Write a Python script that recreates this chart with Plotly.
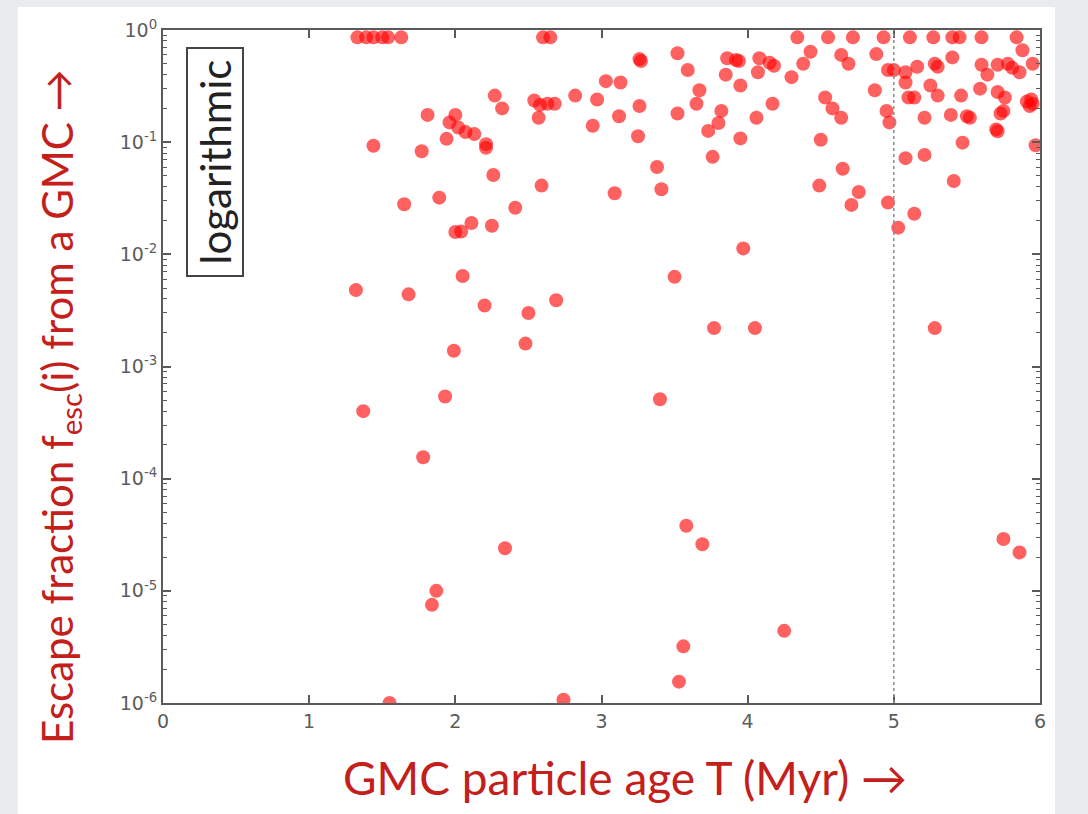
import plotly.graph_objects as go

# GMC particle age T (Myr)
age = [
    1.33, 1.39, 1.44, 1.50, 1.54, 1.63, 2.60, 2.65, 4.34, 4.55, 4.72, 4.93, 5.11, 5.27, 5.40, 5.45, 5.60, 5.84,
    1.81, 1.96, 2.00, 2.02, 1.94, 2.07, 2.13, 2.21, 2.21,
    1.44, 1.77, 1.65, 1.89,
    3.26, 3.27, 3.52, 3.59, 3.86, 3.92, 3.94, 3.85, 3.95,
    3.03, 3.13, 2.82, 2.97, 3.26, 3.12, 2.94, 3.25, 3.52,
    3.67, 3.65, 3.82, 3.80, 3.73, 3.95, 3.76,
    3.38, 3.41, 3.09, 2.59, 2.41, 2.26,
    2.27, 2.32, 2.54, 2.58, 2.63, 2.68, 2.57,
    2.11, 2.00, 2.04, 2.25,
    4.08, 4.07, 4.15, 4.18, 4.30, 4.38, 4.43, 4.17, 4.06,
    4.64, 4.69, 4.88, 4.87, 4.53, 4.58, 4.64, 4.50, 4.95, 4.97,
    4.65, 4.49, 4.76, 4.71, 4.96, 5.03, 5.14,
    4.96, 5.00, 5.08, 5.16, 5.08, 5.10, 5.14,
    5.28, 5.30, 5.40, 5.25, 5.30, 5.46, 5.21, 5.39, 5.50, 5.52, 5.47,
    5.08, 5.21, 5.41,
    5.60, 5.59, 5.64, 5.71, 5.78, 5.81, 5.86, 5.88, 5.95,
    5.71, 5.76, 5.75, 5.73, 5.70, 5.71,
    5.91, 5.94, 5.93, 5.95, 5.97,
    2.05, 1.32, 1.68, 2.20, 2.50, 2.69, 2.48, 1.99, 1.93, 1.37, 1.78,
    3.97, 3.50, 3.77, 4.05, 5.28, 3.40,
    3.58, 3.69, 2.34, 5.75, 5.86, 1.87, 1.84, 4.25, 3.56, 3.53, 1.55, 2.74,
]

# Escape fraction f_esc(i)
fesc = [
    0.86, 0.86, 0.86, 0.86, 0.86, 0.86, 0.86, 0.86, 0.86, 0.86, 0.86, 0.86, 0.86, 0.86, 0.86, 0.86, 0.86, 0.86,
    0.175, 0.15, 0.175, 0.135, 0.107, 0.123, 0.118, 0.096, 0.089,
    0.093, 0.083, 0.028, 0.032,
    0.55, 0.53, 0.62, 0.44, 0.56, 0.54, 0.53, 0.40, 0.32,
    0.35, 0.34, 0.26, 0.24, 0.21, 0.17, 0.14, 0.113, 0.18,
    0.29, 0.22, 0.19, 0.148, 0.126, 0.108, 0.074,
    0.060, 0.038, 0.035, 0.041, 0.026, 0.051,
    0.26, 0.20, 0.235, 0.215, 0.22, 0.22, 0.165,
    0.019, 0.0158, 0.016, 0.018,
    0.56, 0.42, 0.51, 0.48, 0.38, 0.50, 0.64, 0.22, 0.165,
    0.60, 0.50, 0.61, 0.29, 0.25, 0.20, 0.165, 0.105, 0.19, 0.15,
    0.058, 0.041, 0.036, 0.0276, 0.029, 0.0173, 0.023,
    0.44, 0.44, 0.42, 0.47, 0.34, 0.25, 0.25,
    0.50, 0.47, 0.57, 0.32, 0.26, 0.26, 0.165, 0.175, 0.17, 0.165, 0.099,
    0.072, 0.077, 0.045,
    0.49, 0.30, 0.40, 0.49, 0.50, 0.46, 0.42, 0.66, 0.50,
    0.28, 0.25, 0.19, 0.18, 0.13, 0.125,
    0.23, 0.24, 0.21, 0.22, 0.094,
    0.0064, 0.0048, 0.0044, 0.0035, 0.0030, 0.0039, 0.0016, 0.00138, 0.00054, 0.0004, 0.000155,
    0.0113, 0.0063, 0.0022, 0.0022, 0.0022, 0.00051,
    3.8e-5, 2.6e-5, 2.4e-5, 2.9e-5, 2.2e-5, 1.0e-5, 7.5e-6, 4.4e-6, 3.2e-6, 1.55e-6, 1.0e-6, 1.07e-6,
]

x_ticks = [0, 1, 2, 3, 4, 5, 6]
y_ticks = [1e-6, 1e-5, 1e-4, 1e-3, 1e-2, 1e-1, 1e0]
y_tick_text = ["10<sup>-6</sup>", "10<sup>-5</sup>", "10<sup>-4</sup>", "10<sup>-3</sup>",
               "10<sup>-2</sup>", "10<sup>-1</sup>", "10<sup>0</sup>"]
y_minor = [k * 10.0 ** e for e in range(-6, 0) for k in range(2, 10)]

RED = "#c4201b"
AXIS = "#5a5a5a"
TICKFONT = dict(family="DejaVu Sans, sans-serif", size=19, color="#5c5c5c")

fig = go.Figure()
fig.add_trace(go.Scatter(
    x=age, y=fesc, mode="markers",
    marker=dict(size=14, color="rgba(255,0,0,0.62)", line=dict(width=0)),
    showlegend=False, hoverinfo="x+y",
))

fig.update_layout(
    width=1088, height=814,
    margin=dict(l=163, r=48, t=30, b=111),
    paper_bgcolor="#eaebee",
    plot_bgcolor="white",
    font=dict(family="DejaVu Sans, sans-serif", size=19, color="#5c5c5c"),
    shapes=[
        dict(type="rect", xref="paper", yref="paper", layer="below",
             x0=(18 - 163) / 877, x1=(1055 - 163) / 877,
             y0=(703 - 830) / 673, y1=(703 - 7) / 673,
             fillcolor="white", line=dict(width=0)),
        dict(type="line", xref="x", yref="paper", x0=5, x1=5, y0=0, y1=1,
             line=dict(color="#8a8a8a", width=1.5, dash="dot")),
    ],
    xaxis=dict(
        range=[0, 6], tickmode="array", tickvals=x_ticks, ticktext=[str(v) for v in x_ticks],
        showgrid=False, zeroline=False,
        showline=True, linecolor=AXIS, linewidth=2, mirror="ticks",
        ticks="inside", ticklen=8, tickwidth=1.5, tickcolor=AXIS,
        tickfont=TICKFONT,
    ),
    yaxis=dict(
        type="log", range=[-6, 0], tickmode="array", tickvals=y_ticks, ticktext=y_tick_text,
        showgrid=False, zeroline=False,
        showline=True, linecolor=AXIS, linewidth=2, mirror="ticks",
        ticks="inside", ticklen=8, tickwidth=1.5, tickcolor=AXIS,
        tickfont=TICKFONT,
        minor=dict(tickmode="array", tickvals=y_minor, ticks="inside", ticklen=4,
                   tickcolor=AXIS, tickwidth=1, showgrid=False),
    ),
)

fig.add_annotation(
    xref="paper", yref="paper", x=(215 - 163) / 877, y=(703 - 162) / 673,
    xanchor="center", yanchor="middle",
    text="logarithmic", textangle=-90, showarrow=False,
    font=dict(family="Lato", size=42, color="#222222"),
    bordercolor="#444444", borderwidth=2, borderpad=2, bgcolor="white",
    width=222, height=50,
)

fig.add_annotation(
    xref="paper", yref="paper", x=(625 - 163) / 877, y=(703 - 777) / 673,
    xanchor="center", yanchor="middle",
    text="GMC particle age T (Myr) →", showarrow=False,
    font=dict(family="Lato", size=46, color=RED),
)
fig.add_annotation(
    xref="paper", yref="paper", x=(60 - 163) / 877, y=(703 - 407) / 673,
    xanchor="center", yanchor="middle", textangle=-90,
    text="Escape fraction f<sub>esc</sub>(i) from a GMC →", showarrow=False,
    font=dict(family="Lato", size=42, color=RED),
)

fig.write_html("out.html")
